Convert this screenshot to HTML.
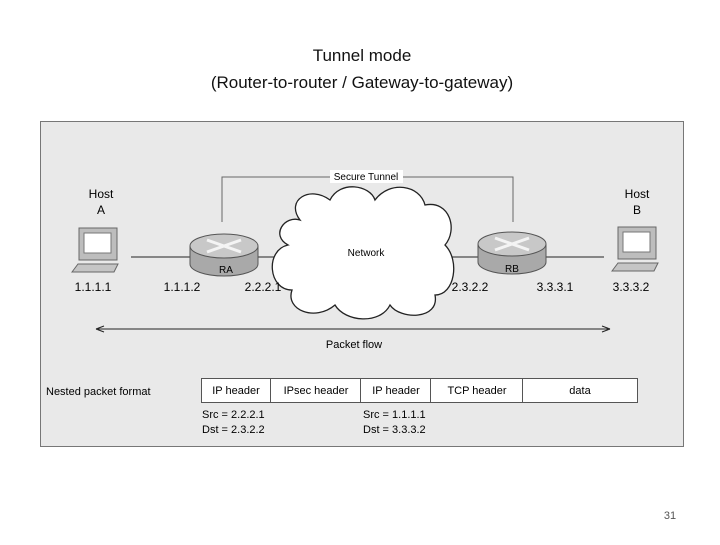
<!DOCTYPE html>
<html><head><style>
body{margin:0;width:720px;height:540px;background:#fff;overflow:hidden;font-family:"Liberation Sans",sans-serif}
</style></head><body>
<svg width="720" height="540" xmlns="http://www.w3.org/2000/svg" font-family="Liberation Sans, sans-serif">
<text x="362" y="61" font-size="17" text-anchor="middle" fill="#111">Tunnel mode</text>
<text x="362" y="88" font-size="17" text-anchor="middle" fill="#111">(Router-to-router / Gateway-to-gateway)</text>
<text x="670" y="519" font-size="11" text-anchor="middle" fill="#555">31</text>
<rect x="40.5" y="121.5" width="643" height="325" fill="#e9e9e9" stroke="#777"/>
<!-- secure tunnel line -->
<polyline points="222,222 222,177 513,177 513,222" fill="none" stroke="#666"/>
<rect x="330" y="170" width="73" height="13" fill="#fff"/>
<text x="366" y="180" font-size="10" text-anchor="middle">Secure Tunnel</text>
<!-- links -->
<line x1="131" y1="257" x2="190" y2="257" stroke="#222"/>
<line x1="258" y1="257" x2="290" y2="257" stroke="#222"/>
<line x1="440" y1="257" x2="478" y2="257" stroke="#222"/>
<line x1="545" y1="257" x2="604" y2="257" stroke="#222"/>
<!-- cloud -->
<path d="M300,220 C285,200 310,185 330,200 C340,180 370,185 375,200 C390,180 420,185 425,205 C450,200 458,230 445,245 C460,260 455,295 435,295 C440,320 400,320 390,305 C380,325 345,322 335,305 C315,322 285,310 292,290 C268,290 265,250 288,245 C270,235 285,215 300,220 Z" fill="#fff" stroke="#222" stroke-width="1.3"/>
<text x="366" y="256" font-size="10" text-anchor="middle">Network</text>
<!-- routers -->
<g>
<path d="M190,246 v18 a34,12 0 0 0 68,0 v-18" fill="#a9a9a9" stroke="#555"/>
<ellipse cx="224" cy="246" rx="34" ry="12" fill="#c8c8c8" stroke="#555"/>
<path d="M207,240 l34,12 M241,240 l-34,12" stroke="#f4f4f4" stroke-width="3"/>
<text x="226" y="273" font-size="10" text-anchor="middle">RA</text>
</g>
<g>
<path d="M478,244 v18 a34,12 0 0 0 68,0 v-18" fill="#a9a9a9" stroke="#555"/>
<ellipse cx="512" cy="244" rx="34" ry="12" fill="#c8c8c8" stroke="#555"/>
<path d="M495,238 l34,12 M529,238 l-34,12" stroke="#f4f4f4" stroke-width="3"/>
<text x="512" y="272" font-size="10" text-anchor="middle">RB</text>
</g>
<!-- hosts -->
<g>
<rect x="79" y="228" width="38" height="32" fill="#bdbdbd" stroke="#666"/>
<rect x="84" y="233" width="27" height="20" fill="#fff" stroke="#777"/>
<path d="M72,272 l6,-8 h40 l-4,8 z" fill="#c5c5c5" stroke="#666"/>
</g>
<text x="101" y="198" font-size="12" text-anchor="middle">Host</text>
<text x="101" y="214" font-size="12" text-anchor="middle">A</text>
<g>
<rect x="618" y="227" width="38" height="32" fill="#bdbdbd" stroke="#666"/>
<rect x="623" y="232" width="27" height="20" fill="#fff" stroke="#777"/>
<path d="M612,271 l6,-8 h40 l-4,8 z" fill="#c5c5c5" stroke="#666"/>
</g>
<text x="637" y="198" font-size="12" text-anchor="middle">Host</text>
<text x="637" y="214" font-size="12" text-anchor="middle">B</text>
<g font-size="12" text-anchor="middle">
<text x="93" y="291">1.1.1.1</text>
<text x="182" y="291">1.1.1.2</text>
<text x="263" y="291">2.2.2.1</text>
<text x="470" y="291">2.3.2.2</text>
<text x="555" y="291">3.3.3.1</text>
<text x="631" y="291">3.3.3.2</text>
</g>
<!-- packet flow -->
<line x1="98" y1="329" x2="608" y2="329" stroke="#222"/>
<path d="M96,329 l8,-3 M96,329 l8,3 M610,329 l-8,-3 M610,329 l-8,3" stroke="#222"/>
<text x="354" y="348" font-size="11" text-anchor="middle">Packet flow</text>
<text x="46" y="395" font-size="11">Nested packet format</text>
<g fill="#fff" stroke="#555">
<rect x="201.5" y="378.5" width="69" height="24"/>
<rect x="270.5" y="378.5" width="90" height="24"/>
<rect x="360.5" y="378.5" width="70" height="24"/>
<rect x="430.5" y="378.5" width="92" height="24"/>
<rect x="522.5" y="378.5" width="115" height="24"/>
</g>
<g font-size="11" text-anchor="middle">
<text x="236" y="394">IP header</text>
<text x="316" y="394">IPsec header</text>
<text x="396" y="394">IP header</text>
<text x="477" y="394">TCP header</text>
<text x="580" y="394">data</text>
</g>
<g font-size="11">
<text x="202" y="418">Src = 2.2.2.1</text>
<text x="202" y="433">Dst = 2.3.2.2</text>
<text x="363" y="418">Src = 1.1.1.1</text>
<text x="363" y="433">Dst = 3.3.3.2</text>
</g>
</svg>
</body></html>
